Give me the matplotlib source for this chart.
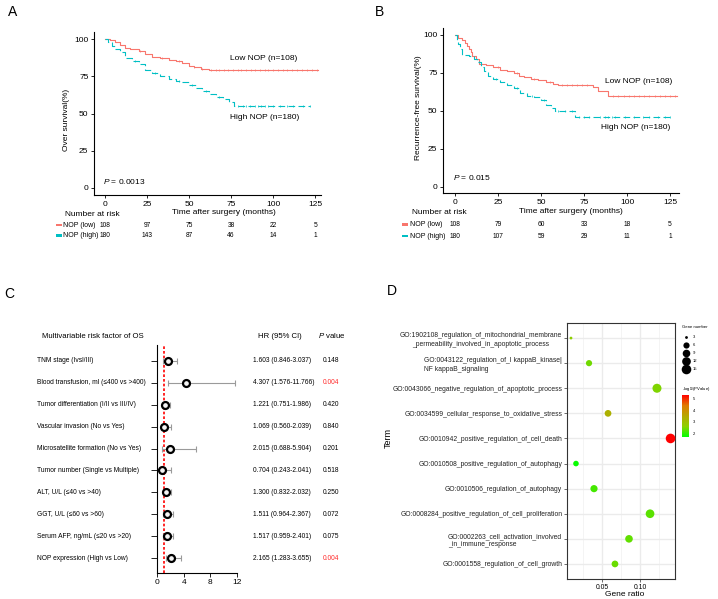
import numpy as np
import matplotlib
matplotlib.use("Agg")
import matplotlib.pyplot as plt
from matplotlib import font_manager
from matplotlib.font_manager import FontProperties
from matplotlib.colors import LinearSegmentedColormap, Normalize
from matplotlib.transforms import blended_transform_factory

# the reference text is tall and narrow: use the narrow face when it is there
try:
    font_manager.findfont(FontProperties(family="Liberation Sans Narrow"), fallback_to_default=False)
    FACE, SCALE = "Liberation Sans Narrow", 1.2
except ValueError:
    FACE, SCALE = "Liberation Sans", 1.0

plt.rcParams['font.family'] = [FACE, 'DejaVu Sans']
plt.rcParams['mathtext.fontset'] = 'custom'
plt.rcParams['mathtext.rm'] = FACE
plt.rcParams['mathtext.it'] = FACE + ':italic'


def fs(x):
    return x * SCALE


W, H = 718, 599
RED = "#F8766D"
CYAN = "#00BFC4"

# ---------------- data: panel A (overall survival) ----------------
a_low_t = [0, 3, 6, 9, 12, 15, 20, 24, 28, 33, 38, 42, 46, 50, 53, 57, 62, 127]
a_low_s = [100, 99, 98, 96, 94, 93, 92, 90, 88, 87, 86, 85, 84, 82, 81, 80, 79, 79]
a_high_t = [0, 2, 4, 6, 9, 12, 16, 20, 24, 28, 33, 38, 42, 46, 50, 54, 58, 62, 66, 70, 74, 77, 122]
a_high_s = [100, 98, 95, 93, 91, 87, 85, 83, 79, 77, 75, 73, 72, 71, 69, 67, 65, 63, 61, 60, 58, 55, 55]
a_low_cens = [21, 34, 44, 53, 58, 63, 66, 68, 71, 73, 76, 79, 81, 84, 87, 89, 92, 95, 97,
              100, 103, 106, 108, 111, 114, 117, 120, 123, 126]
a_high_cens = [18, 30, 44, 52, 60, 68, 79, 82, 84, 86, 89, 91, 93, 95, 97, 100, 104, 108,
               112, 118, 122]
a_risk_low = [108, 97, 75, 38, 22, 5]
a_risk_high = [180, 143, 87, 46, 14, 1]

# ---------------- data: panel B (recurrence-free survival) ----------------
b_low_t = [0, 2, 4, 6, 7, 8, 9, 10, 12, 14, 18, 22, 26, 30, 34, 37, 40, 44, 48, 53, 57, 60, 80, 83, 89, 129]
b_low_s = [100, 98, 97, 95, 93, 91, 89, 86, 84, 81, 80, 79, 77, 76, 75, 73, 72, 71, 70, 69, 68, 67, 66, 63, 60, 60]
b_high_t = [0, 1, 2, 3, 4, 8, 11, 13, 15, 17, 19, 22, 26, 30, 34, 38, 42, 46, 50, 53, 56, 58, 70, 125]
b_high_s = [100, 97, 94, 91, 87, 86, 84, 82, 79, 76, 73, 71, 69, 67, 65, 62, 60, 59, 57, 54, 52, 50, 46, 46]
b_low_cens = [25, 36, 46, 55, 62, 65, 68, 71, 74, 77, 92, 95, 98, 101, 104, 107, 110, 113,
              116, 119, 122, 125, 128]
b_high_cens = [14, 24, 36, 45, 52, 60, 64, 68, 72, 75, 78, 84, 87, 89, 91, 93, 99, 104, 109,
               113, 118, 122, 125]
b_risk_low = [108, 79, 60, 33, 18, 5]
b_risk_high = [180, 107, 59, 29, 11, 1]

risk_times = [0, 25, 50, 75, 100, 125]

# ---------------- data: panel C (forest plot) ----------------
factors = ["TNM stage (Ivsl/III)",
           "Blood transfusion, ml (\u2264400 vs >400)",
           "Tumor differentiation (I/II vs III/IV)",
           "Vascular invasion (No vs Yes)",
           "Microsatellite formation (No vs Yes)",
           "Tumor number (Single vs Multiple)",
           "ALT, U/L (\u226440 vs >40)",
           "GGT, U/L (\u226460 vs >60)",
           "Serum AFP, ng/mL (\u226420 vs >20)",
           "NOP expression (High vs Low)"]
hr = [1.603, 4.307, 1.221, 1.069, 2.015, 0.704, 1.300, 1.511, 1.517, 2.165]
hr_lo = [0.846, 1.576, 0.751, 0.560, 0.688, 0.243, 0.832, 0.964, 0.959, 1.283]
hr_hi = [3.037, 11.766, 1.986, 2.039, 5.904, 2.041, 2.032, 2.367, 2.401, 3.655]
pvals = ["0.148", "0.004", "0.420", "0.840", "0.201", "0.518", "0.250", "0.072", "0.075", "0.004"]

# ---------------- data: panel D (GO enrichment) ----------------
terms = ["GO:1902108_regulation_of_mitochondrial_membrane\n_permeability_involved_in_apoptotic_process",
         "GO:0043122_regulation_of_I kappaB_kinase|\nNF kappaB_signaling",
         "GO:0043066_negative_regulation_of_apoptotic_process",
         "GO:0034599_cellular_response_to_oxidative_stress",
         "GO:0010942_positive_regulation_of_cell_death",
         "GO:0010508_positive_regulation_of_autophagy",
         "GO:0010506_regulation_of_autophagy",
         "GO:0008284_positive_regulation_of_cell_proliferation",
         "GO:0002263_cell_activation_involved\n_in_immune_response",
         "GO:0001558_regulation_of_cell_growth"]
gene_ratio = [0.0085, 0.0324, 0.1225, 0.0576, 0.1405, 0.0151, 0.0390, 0.1133, 0.0854, 0.0668]
gene_count = [3, 6, 13, 7, 15, 5, 8, 12, 9, 7]
neglogp = [2.6, 2.4, 2.5, 3.3, 5.35, 1.7, 2.1, 2.25, 2.3, 2.35]
size_breaks = [3, 6, 9, 12, 15]


fig = plt.figure(figsize=(W / 100, H / 100), dpi=100)


def px_axes(left, top, right, bottom):
    return fig.add_axes([left / W, 1 - bottom / H, (right - left) / W, (bottom - top) / H])


def ftext(x, y, s, **kw):
    fig.text(x / W, 1 - y / H, s, **kw)


def step_value(times, surv, t):
    i = np.searchsorted(times, t, side="right") - 1
    return surv[i]


def km_panel(box, xlim, ylim, curves, labels, pval, risk, risk_y, label_x, rect_x, ylabel, ylabel_pos,
             xlabel_pos, head_pos):
    ax = px_axes(*box)
    for (t, s, cens, color, dash) in curves:
        ax.step(t, s, where="post", color=color, lw=0.8, linestyle=dash)
        cy = [step_value(t, s, c) for c in cens]
        ax.plot(cens, cy, linestyle="none", marker="|", ms=1.4, mew=0.5, color=color)
    ax.set_xlim(*xlim)
    ax.set_ylim(*ylim)
    ax.set_xticks(risk_times)
    ax.set_yticks([0, 25, 50, 75, 100])
    for side in ["top", "right"]:
        ax.spines[side].set_visible(False)
    for side in ["left", "bottom"]:
        ax.spines[side].set_linewidth(0.8)
    ax.tick_params(labelsize=fs(6), length=2, width=0.6, pad=2)
    for (x, y, s) in labels:
        ax.text(x, y, s, fontsize=fs(6), va="center", ha="left")
    ax.text(pval[0], pval[1], pval[2], fontsize=fs(6), va="center", ha="left")
    ftext(ylabel_pos[0], ylabel_pos[1], ylabel, rotation=90, fontsize=fs(6), ha="center", va="center")
    ftext(xlabel_pos[0], xlabel_pos[1], "Time after surgery (months)", fontsize=fs(6), ha="center", va="center")
    ftext(head_pos[0], head_pos[1], "Number at risk", fontsize=fs(6), ha="left", va="center")
    tr = blended_transform_factory(ax.transData, fig.transFigure)
    for row, (name, counts, color) in enumerate(risk):
        yy = 1 - risk_y[row] / H
        for tt, n in zip(risk_times, counts):
            ax.text(tt, yy, str(n), transform=tr, fontsize=fs(4.8), ha="center", va="center", clip_on=False)
        ftext(label_x, risk_y[row], name, fontsize=fs(5), ha="left", va="center")
        fig.patches.append(plt.Rectangle((rect_x / W, 1 - (risk_y[row] + 1.2) / H), 6 / W, 2.4 / H,
                                         transform=fig.transFigure, color=color, lw=0))
    return ax


# ---------------- panel A ----------------
km_panel((94, 32, 321, 195), (-6.5, 128.5), (-4.7, 104.7),
         [(a_low_t, a_low_s, a_low_cens, RED, "-"),
          (a_high_t, a_high_s, a_high_cens, CYAN, (0, (6, 3)))],
         [(74.6, 87.2, "Low NOP (n=108)"), (74.6, 47, "High NOP (n=180)")],
         (-1.2, 4.5, "$P$ = 0.0013"),
         [("NOP (low)", a_risk_low, RED), ("NOP (high)", a_risk_high, CYAN)],
         (225, 235.5), 63, 56, "Over survival(%)", (66, 120), (224, 213), (65, 215))

# ---------------- panel B ----------------
km_panel((443, 28, 679, 193), (-7, 130.2), (-4.2, 104.6),
         [(b_low_t, b_low_s, b_low_cens, RED, "-"),
          (b_high_t, b_high_s, b_high_cens, CYAN, (0, (6, 3)))],
         [(87, 69, "Low NOP (n=108)"), (85, 38.7, "High NOP (n=180)")],
         (-1, 5.7, "$P$ = 0.015"),
         [("NOP (low)", b_risk_low, RED), ("NOP (high)", b_risk_high, CYAN)],
         (224.5, 236), 410, 402, "Recurrence-free survival(%)", (419, 108), (571, 212), (412, 213))

# ---------------- panel C ----------------
axc = px_axes(157, 345, 237, 573)
rows = np.arange(len(factors))
hr_a = np.array(hr)
axc.axvline(1, color="red", lw=1.2, linestyle=(0, (1.6, 1.2)), zorder=1)
axc.errorbar(hr_a, rows, xerr=[hr_a - np.array(hr_lo), np.array(hr_hi) - hr_a], fmt="none",
             ecolor="#9A9A9A", elinewidth=0.8, capsize=2.2, capthick=0.8, zorder=2)
axc.plot(hr_a, rows, "o", mfc="#F4F4F4", mec="black", mew=1.6, ms=5, zorder=3)
axc.set_xlim(0, 12)
axc.set_ylim(9.68, -0.73)
axc.set_xticks([0, 4, 8, 12])
axc.set_yticks(rows)
axc.set_yticklabels([])
for side in ["top", "right"]:
    axc.spines[side].set_visible(False)
for side in ["left", "bottom"]:
    axc.spines[side].set_linewidth(0.8)
axc.tick_params(axis="x", labelsize=fs(6), length=3, width=0.6, pad=1.5)
axc.tick_params(axis="y", length=4, width=0.6)
trc = blended_transform_factory(fig.transFigure, axc.transData)
for i in rows:
    fig.text(37 / W, i, factors[i], transform=trc, fontsize=fs(4.8), ha="left", va="center")
    fig.text(253 / W, i, "%.3f (%.3f-%.3f)" % (hr[i], hr_lo[i], hr_hi[i]), transform=trc,
             fontsize=fs(4.8), ha="left", va="center")
    pcol = "#FF2A2A" if float(pvals[i]) < 0.05 else "black"
    fig.text(331 / W, i, pvals[i], transform=trc, fontsize=fs(4.8), ha="center", va="center", color=pcol)
ftext(42, 336, "Multivariable risk factor of OS", fontsize=fs(5.6), ha="left", va="center")
ftext(258, 336, "HR (95% CI)", fontsize=fs(5.6), ha="left", va="center")
ftext(318, 336, "$P$ value", fontsize=fs(5.6), ha="left", va="center")

# ---------------- panel D ----------------
cmap = LinearSegmentedColormap.from_list("gr", ["#00FF00", "#8CD000", "#B5A800", "#E07A00", "#FF0000"])
norm = Normalize(vmin=1.65, vmax=5.35)


def dot_area(n):
    d_px = 2.8 + 6.8 * np.sqrt((np.asarray(n, dtype=float) - 3) / 12)
    return (d_px * 0.72) ** 2


axd = px_axes(567, 323, 675, 579)
yd = np.arange(len(terms))
sc = axd.scatter(gene_ratio, yd, s=dot_area(gene_count), c=neglogp, cmap=cmap, norm=norm,
                 linewidths=0, zorder=3, clip_on=False)
axd.set_xlim(0.0032, 0.1464)
axd.set_ylim(9.6, -0.6)
axd.set_xticks([0.05, 0.10])
axd.set_xticklabels(["0.05", "0.10"])
axd.set_xticks([0.025, 0.075, 0.125], minor=True)
axd.set_yticks(yd)
axd.set_yticklabels(terms, fontsize=fs(4.85), color="#222222", linespacing=1.3)
for k, lab in enumerate(axd.get_yticklabels()):
    lab.set_multialignment("center" if k == 0 else "left")
axd.set_axisbelow(True)
axd.grid(which="major", color="#EBEBEB", lw=1.0)
axd.grid(which="minor", axis="x", color="#F2F2F2", lw=0.6)
for sp in axd.spines.values():
    sp.set_color("#333333")
    sp.set_linewidth(0.8)
axd.tick_params(axis="both", which="major", labelsize=fs(4.9), length=2, width=0.5, color="#333333", pad=1.5)
axd.tick_params(axis="x", which="minor", length=0)
ftext(625, 595, "Gene ratio", fontsize=fs(6), ha="center", va="center")
ftext(388, 438, "Term", fontsize=fs(6.5), rotation=90, ha="center", va="center")

# size legend
axl = px_axes(676, 320, 718, 380)
axl.set_xlim(676, 718)
axl.set_ylim(380, 320)
axl.axis("off")
axl.text(682, 327, "Gene number", fontsize=fs(3.1), ha="left", va="center")
for k, g in enumerate(size_breaks):
    yy = 337 + 8 * k
    axl.scatter([686], [yy], s=dot_area([g]), color="black", linewidths=0, clip_on=False)
    axl.text(693, yy, str(g), fontsize=fs(3), ha="left", va="center")

# colour bar
ftext(682, 389, "-log$_{10}$(PValue)", fontsize=fs(3.1), ha="left", va="center")
cax = px_axes(682, 395, 689, 437)
cb = fig.colorbar(sc, cax=cax, ticks=[2, 3, 4, 5])
cb.outline.set_visible(False)
cax.tick_params(labelsize=fs(3), length=1.5, width=0.4, color="white", pad=1)

# panel letters
ftext(13, 12, "A", fontsize=fs(10), ha="center", va="center")
ftext(379, 12, "B", fontsize=fs(10), ha="center", va="center")
ftext(9, 294, "C", fontsize=fs(10), ha="center", va="center")
ftext(392, 291, "D", fontsize=fs(10), ha="center", va="center")

fig.savefig("out.png", dpi=100)
